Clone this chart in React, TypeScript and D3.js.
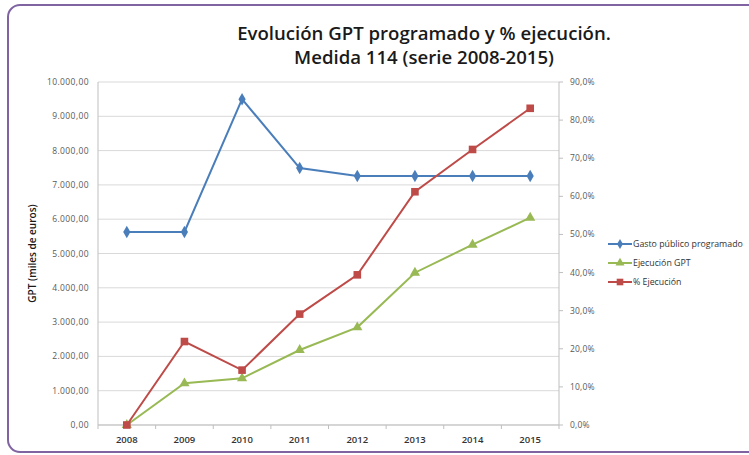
import React from "react";
import * as d3 from "d3";

const years = ["2008", "2009", "2010", "2011", "2012", "2013", "2014", "2015"];
const gastoProgramado = [5630, 5630, 9500, 7490, 7260, 7260, 7260, 7260];
const ejecucionGPT = [0, 1216, 1361, 2187, 2848, 4440, 5257, 6044];
const pctEjecucion = [0, 21.9, 14.4, 29.1, 39.4, 61.2, 72.3, 83.1];
const leftTicks = [0, 1000, 2000, 3000, 4000, 5000, 6000, 7000, 8000, 9000, 10000];
const rightTicks = [0, 10, 20, 30, 40, 50, 60, 70, 80, 90];
const seriesNames = ["Gasto público programado", "Ejecución GPT", "% Ejecución"];
const titleLines = ["Evolución GPT programado y % ejecución.", "Medida 114 (serie 2008-2015)"];

const W = 749, H = 455;
const M = { left: 98, right: 559, top: 82, bottom: 425 };
const BLUE = "#4A7EBB", GREEN = "#98B954", RED = "#BE4B48";

const fmtLeft = (v: number) => {
  const s = d3.format(",.2f")(v);
  return s.replace(/,/g, "#").replace(/\./g, ",").replace(/#/g, ".");
};
const fmtRight = (v: number) => d3.format(".1f")(v).replace(".", ",") + "%";

export default function App() {
  const x = d3.scaleBand().domain(years).range([M.left, M.right]);
  const yL = d3.scaleLinear().domain([0, 10000]).range([M.bottom, M.top]);
  const yR = d3.scaleLinear().domain([0, 90]).range([M.bottom, M.top]);
  const cx = (y: string) => (x(y) as number) + x.bandwidth() / 2;

  const lineL = d3.line<number>().x((_, i) => cx(years[i])).y((d) => yL(d));
  const lineR = d3.line<number>().x((_, i) => cx(years[i])).y((d) => yR(d));

  const diamond = d3.symbol().type(d3.symbolDiamond).size(45)() as string;
  const triangle = d3.symbol().type(d3.symbolTriangle).size(45)() as string;
  const square = (s: number) => `M${-s},${-s}H${s}V${s}H${-s}Z`;

  const font = "'Open Sans', 'Noto Sans', sans-serif";
  const legendY = [244, 263, 282];
  const legendColors = [BLUE, GREEN, RED];

  return (
    <svg width={W} height={H} style={{ position: "absolute", left: 0, top: 0 }} fontFamily={font}>
      <rect x={0} y={0} width={W} height={H} fill="#fff" />
      <rect x={8} y={5} width={760} height={447} rx={12} fill="#fff" stroke="#8064A2" strokeWidth={2} />
      {titleLines.map((t, i) => (
        <text key={i} x={424} y={40 + i * 24} textAnchor="middle" fontSize={18.6} fontWeight={600} fill="#1a1a1a">
          {t}
        </text>
      ))}
      {/* gridlines */}
      {leftTicks.map((t) => (
        <line key={t} x1={M.left} x2={M.right} y1={yL(t)} y2={yL(t)} stroke="#D9D9D9" strokeWidth={1} />
      ))}
      {/* axes */}
      <line x1={M.left} x2={M.left} y1={M.top} y2={M.bottom} stroke="#BFBFBF" />
      <line x1={M.right} x2={M.right} y1={M.top} y2={M.bottom} stroke="#BFBFBF" />
      <line x1={M.left} x2={M.right} y1={M.bottom} y2={M.bottom} stroke="#BFBFBF" />
      {leftTicks.map((t) => (
        <text key={"l" + t} x={M.left - 9} y={yL(t) + 3} textAnchor="end" fontSize={8.5} letterSpacing={0.4} fill="#595959">
          {fmtLeft(t)}
        </text>
      ))}
      {rightTicks.map((t) => (
        <g key={"r" + t}>
          <line x1={M.right} x2={M.right + 4} y1={yR(t)} y2={yR(t)} stroke="#BFBFBF" />
          <text x={M.right + 11} y={yR(t) + 3} textAnchor="start" fontSize={8.5} letterSpacing={0.2} fill="#595959">
            {fmtRight(t)}
          </text>
        </g>
      ))}
      {years.map((yr) => (
        <g key={yr}>
          <line x1={x(yr) as number} x2={x(yr) as number} y1={M.bottom} y2={M.bottom + 4} stroke="#BFBFBF" />
          <text x={cx(yr)} y={M.bottom + 18} textAnchor="middle" fontSize={9.5} fontWeight={600} fill="#333">
            {yr}
          </text>
        </g>
      ))}
      <line x1={M.right} x2={M.right} y1={M.bottom} y2={M.bottom + 4} stroke="#BFBFBF" />
      <text
        transform={`translate(36,${(M.top + M.bottom) / 2}) rotate(-90)`}
        textAnchor="middle"
        fontSize={10}
        fontWeight={600}
        fill="#1a1a1a"
      >
        GPT (miles de euros)
      </text>
      {/* series */}
      <path d={lineL(gastoProgramado) as string} fill="none" stroke={BLUE} strokeWidth={2} />
      <path d={lineL(ejecucionGPT) as string} fill="none" stroke={GREEN} strokeWidth={2} />
      <path d={lineR(pctEjecucion) as string} fill="none" stroke={RED} strokeWidth={2} />
      {gastoProgramado.map((v, i) => (
        <path key={"b" + i} d={diamond} transform={`translate(${cx(years[i])},${yL(v)})`} fill={BLUE} />
      ))}
      {ejecucionGPT.map((v, i) => (
        <path key={"g" + i} d={triangle} transform={`translate(${cx(years[i])},${yL(v)})`} fill={GREEN} />
      ))}
      {pctEjecucion.map((v, i) => (
        <path key={"r" + i} d={square(3.8)} transform={`translate(${cx(years[i])},${yR(v)})`} fill={RED} />
      ))}
      {/* legend */}
      {seriesNames.map((n, i) => (
        <g key={n} transform={`translate(608,${legendY[i]})`}>
          <line x1={0} x2={24} y1={0} y2={0} stroke={legendColors[i]} strokeWidth={2} />
          {i === 0 && <path d={d3.symbol().type(d3.symbolDiamond).size(30)() as string} transform="translate(12,0)" fill={BLUE} />}
          {i === 1 && <path d={d3.symbol().type(d3.symbolTriangle).size(35)() as string} transform="translate(12,0)" fill={GREEN} />}
          {i === 2 && <path d={square(3.3)} transform="translate(12,0)" fill={RED} />}
          <text x={25} y={3} fontSize={8.8} fill="#333">
            {n}
          </text>
        </g>
      ))}
    </svg>
  );
}
